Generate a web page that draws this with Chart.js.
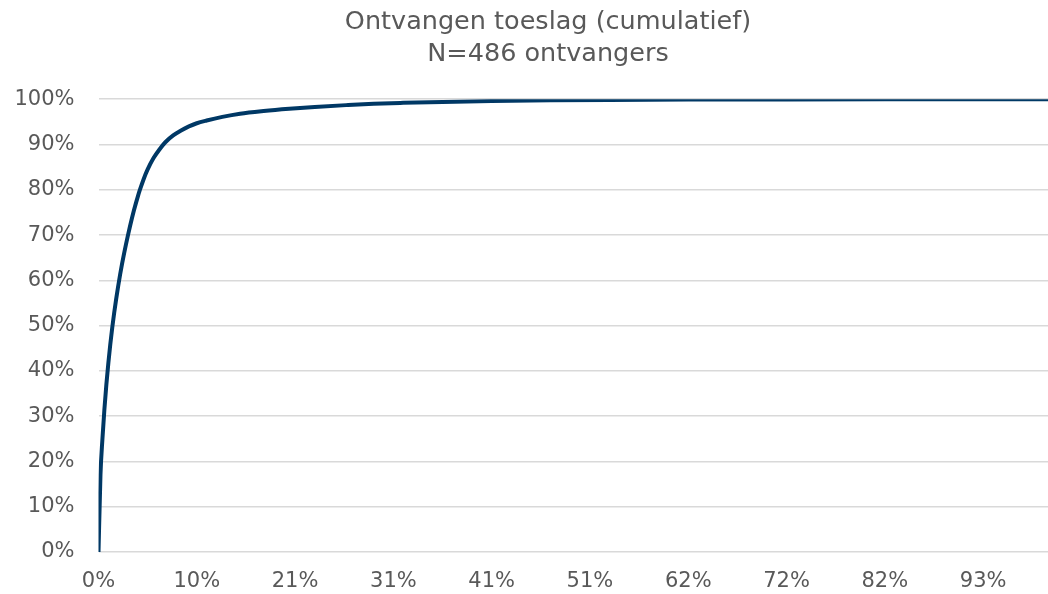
<!DOCTYPE html>
<html>
<head>
<meta charset="utf-8">
<script src="https://cdn.jsdelivr.net/npm/chart.js@4"></script>
<style>
  html, body { margin: 0; padding: 0; background: #ffffff; }
  #wrap { width: 1048px; height: 594px; }
</style>
</head>
<body>
<div id="wrap"><canvas id="c" width="1048" height="594"></canvas></div>
<script>
// Recipient index (sorted)
const recipientIndex = [0, 1, 2, 3, 4, 5, 6, 7, 8, 9, 10, 11, 12, 13, 14, 15, 16, 17, 18, 19, 20, 21, 23, 25, 28, 31, 34, 38, 42, 46, 50, 55, 63, 72, 84, 97, 110, 126, 140, 155, 175, 200, 230, 260, 300, 350, 400, 450, 485];
// Cumulative share of the allowance (%)
const cumulativeShare = [0, 17, 25, 31.5, 37, 41.7, 45.9, 49.6, 52.9, 55.9, 58.7, 61.3, 63.7, 65.9, 68.0, 70.0, 71.9, 73.7, 75.4, 77.0, 78.5, 79.9, 82.4, 84.5, 87.0, 88.9, 90.5, 92.0, 93.1, 94.0, 94.7, 95.3, 96.1, 96.8, 97.4, 97.9, 98.3, 98.7, 99.0, 99.2, 99.4, 99.6, 99.75, 99.85, 99.92, 99.96, 99.98, 99.99, 100];
const xTickLabels = ['0%', '10%', '21%', '31%', '41%', '51%', '62%', '72%', '82%', '93%'];
const yTickLabels = ['0%', '10%', '20%', '30%', '40%', '50%', '60%', '70%', '80%', '90%', '100%'];
const titleLines = ['Ontvangen toeslag (cumulatief)', 'N=486 ontvangers'];

const points = recipientIndex.map((x, i) => ({ x: x, y: cumulativeShare[i] }));
const FONT = 'DejaVu Sans, Verdana, sans-serif';
const TEXT = '#595959';
const GRID = '#d9d9d9';

const titleShift = {
  id: 'titleShift',
  afterLayout(chart) {
    const t = chart.titleBlock;
    if (t) { t.left = 48; t.width = t.right - t.left; }
  }
};

new Chart(document.getElementById('c'), {
  type: 'line',
  data: {
    datasets: [{
      data: points,
      borderColor: '#003865',
      borderWidth: 4,
      pointRadius: 0,
      pointHoverRadius: 0,
      fill: false,
      cubicInterpolationMode: 'monotone'
    }]
  },
  plugins: [titleShift],
  options: {
    responsive: false,
    animation: false,
    layout: { padding: 0 },
    plugins: {
      legend: { display: false },
      tooltip: { enabled: false },
      title: {
        display: true,
        text: titleLines,
        color: TEXT,
        font: { family: FONT, size: 25.5, weight: 'normal', lineHeight: 1.24 },
        padding: { top: 7, bottom: 29 }
      }
    },
    scales: {
      x: {
        type: 'linear',
        min: 0,
        max: 483,
        grid: { display: false, drawTicks: false },
        border: { display: false },
        ticks: {
          stepSize: 50,
          includeBounds: false,
          autoSkip: false,
          maxRotation: 0,
          padding: 17,
          color: TEXT,
          font: { family: FONT, size: 21 },
          callback: (v) => (xTickLabels[v / 50] !== undefined ? xTickLabels[v / 50] : '')
        },
        afterFit: (s) => { s.height = 42; }
      },
      y: {
        min: 0,
        max: 100,
        grid: { color: GRID, lineWidth: 1.5, drawTicks: false },
        border: { display: false },
        ticks: {
          stepSize: 10,
          padding: 24,
          color: TEXT,
          font: { family: FONT, size: 21 },
          callback: (v) => (yTickLabels[v / 10] !== undefined ? yTickLabels[v / 10] : '')
        },
        afterFit: (s) => { s.width = 98.5; }
      }
    }
  }
});
</script>
</body>
</html>
